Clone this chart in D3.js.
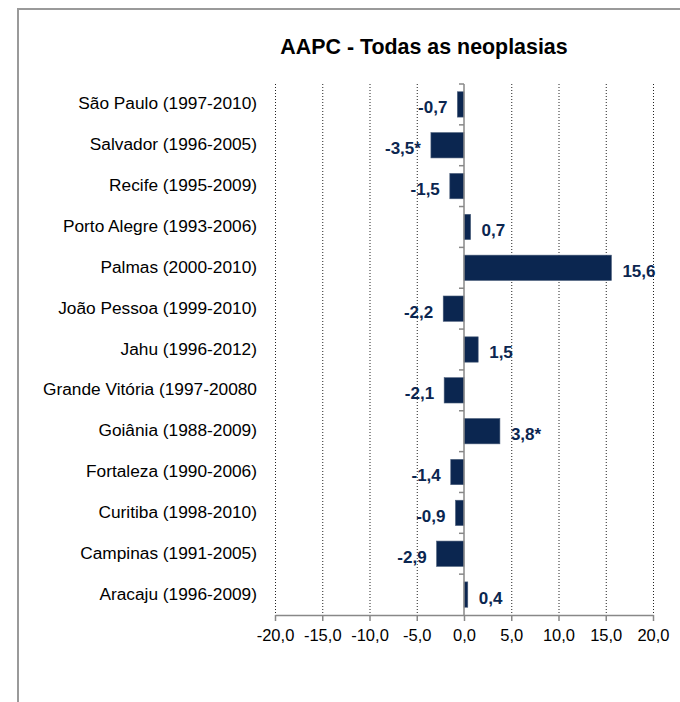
<!DOCTYPE html>
<html><head><meta charset="utf-8">
<script src="https://cdn.jsdelivr.net/npm/d3@7"></script>
<style>
html,body{margin:0;padding:0;background:#fff;}
svg{display:block;font-family:"Liberation Sans",Arial,sans-serif;}
</style></head>
<body>
<svg id="chart" width="680" height="702"></svg>
<script>
const title = "AAPC - Todas as neoplasias";
const categories = [
  "São Paulo (1997-2010)",
  "Salvador (1996-2005)",
  "Recife (1995-2009)",
  "Porto Alegre (1993-2006)",
  "Palmas (2000-2010)",
  "João Pessoa (1999-2010)",
  "Jahu (1996-2012)",
  "Grande Vitória (1997-20080",
  "Goiânia (1988-2009)",
  "Fortaleza (1990-2006)",
  "Curitiba (1998-2010)",
  "Campinas (1991-2005)",
  "Aracaju (1996-2009)"
];
const values = [-0.7, -3.5, -1.5, 0.7, 15.6, -2.2, 1.5, -2.1, 3.8, -1.4, -0.9, -2.9, 0.4];
const valueLabels = ["-0,7", "-3,5*", "-1,5", "0,7", "15,6", "-2,2", "1,5", "-2,1", "3,8*", "-1,4", "-0,9", "-2,9", "0,4"];
const xTicks = [-20, -15, -10, -5, 0, 5, 10, 15, 20];
const fmt = v => v.toFixed(1).replace(".", ",");

const svg = d3.select("#chart");

// frame
svg.append("path")
  .attr("d", "M18,712 L18,9 L690,9")
  .attr("fill", "none").attr("stroke", "#9a9a9a").attr("stroke-width", 2);

// title
svg.append("text")
  .attr("x", 424).attr("y", 54)
  .attr("text-anchor", "middle")
  .attr("font-size", 21.4).attr("font-weight", "bold").attr("fill", "#000")
  .text(title);

const x = d3.scaleLinear().domain([-20, 20]).range([275, 653]);
const y = d3.scaleBand().domain(categories).range([84, 615]).paddingInner(0.38).paddingOuter(0.19);

// gridlines
svg.append("g").selectAll("line")
  .data(xTicks.filter(t => t !== 0))
  .join("line")
  .attr("x1", d => x(d) + 0.5).attr("x2", d => x(d) + 0.5)
  .attr("y1", 84).attr("y2", 615)
  .attr("stroke", "#222").attr("stroke-width", 1).attr("stroke-dasharray", "1,2");

// bars
svg.append("g").selectAll("rect")
  .data(values)
  .join("rect")
  .attr("x", d => Math.min(x(0), x(d)))
  .attr("width", d => Math.abs(x(d) - x(0)))
  .attr("y", (d, i) => y(categories[i]))
  .attr("height", y.bandwidth())
  .attr("fill", "#0b2650")
  .attr("stroke", "#4a5d7a").attr("stroke-width", 0.6);

// x axis
const xAxis = d3.axisBottom(x).tickValues(xTicks).tickFormat(fmt).tickSize(6).tickSizeOuter(0);
const gx = svg.append("g").attr("transform", "translate(0,615)").call(xAxis);
gx.select(".domain").attr("stroke", "#888").attr("stroke-width", 1.5);
gx.selectAll(".tick line").attr("stroke", "#888").attr("stroke-width", 1.5);
gx.selectAll(".tick text")
  .attr("font-size", 16.5).attr("fill", "#000").attr("dy", "1.05em")
  .attr("font-family", "'Liberation Sans',Arial,sans-serif");

// zero vertical axis with category boundary ticks
svg.append("line")
  .attr("x1", x(0)).attr("x2", x(0)).attr("y1", 84).attr("y2", 615)
  .attr("stroke", "#888").attr("stroke-width", 1.5);
const step = y.step();
svg.append("g").selectAll("line")
  .data(d3.range(categories.length))
  .join("line")
  .attr("x1", x(0) - 5).attr("x2", x(0))
  .attr("y1", i => 84 + i * step).attr("y2", i => 84 + i * step)
  .attr("stroke", "#888").attr("stroke-width", 1.5);

// category labels
svg.append("g").selectAll("text")
  .data(categories)
  .join("text")
  .attr("x", x(-20) - 18)
  .attr("y", d => y(d) + y.bandwidth() / 2 - 1)
  .attr("dy", "0.35em")
  .attr("text-anchor", "end")
  .attr("font-size", 17.3).attr("fill", "#000")
  .text(d => d);

// value labels
svg.append("g").selectAll("text")
  .data(values)
  .join("text")
  .attr("x", d => d < 0 ? x(d) - 10 : x(d) + 11)
  .attr("y", (d, i) => y(categories[i]) + y.bandwidth() / 2 + 3)
  .attr("dy", "0.35em")
  .attr("text-anchor", d => d < 0 ? "end" : "start")
  .attr("font-size", 17).attr("font-weight", "bold").attr("fill", "#0b2650")
  .text((d, i) => valueLabels[i]);
</script>
</body></html>
